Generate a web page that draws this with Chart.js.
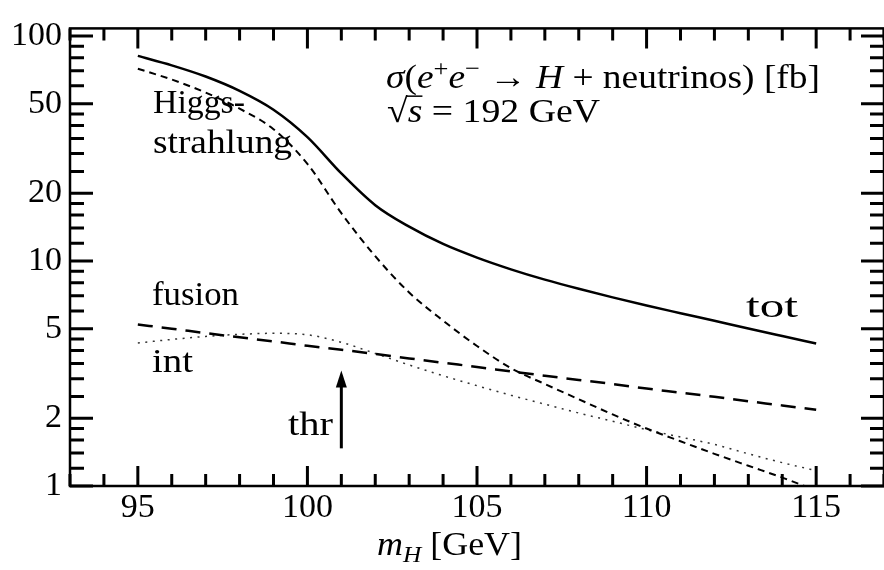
<!DOCTYPE html>
<html>
<head>
<meta charset="utf-8">
<script src="https://cdn.jsdelivr.net/npm/chart.js@4.4.1/dist/chart.umd.min.js"></script>
<style>
  html, body { margin: 0; padding: 0; background: #fff; }
  #wrap { width: 884px; height: 570px; }
</style>
</head>
<body>
<div id="wrap"><canvas id="xsecChart" width="884" height="570"></canvas></div>
<script>
// values (sigma in fb vs m_H in GeV)
const masses = [95, 96, 97, 98, 99, 100, 101, 102, 103, 104, 105, 106, 107, 108, 109, 110, 111, 112, 113, 114, 115];
const totValues = [81.5, 74, 66, 57, 47, 35.5, 24.5, 17.7, 14.2, 11.9, 10.35, 9.18, 8.26, 7.52, 6.89, 6.34, 5.86, 5.42, 5.01, 4.64, 4.3];
const higgsstrahlungValues = [71.5, 64, 56, 47.5, 38.5, 27, 16.3, 10.5, 7.24, 5.43, 4.19, 3.34, 2.84, 2.43, 2.08, 1.8, 1.58, 1.39, 1.23, 1.09, 0.955];
const fusionValues = [5.22, 5.0, 4.78, 4.58, 4.39, 4.2, 4.03, 3.86, 3.69, 3.53, 3.38, 3.23, 3.09, 2.96, 2.84, 2.71, 2.6, 2.49, 2.38, 2.28, 2.18];
const interferenceValues = [4.32, 4.48, 4.62, 4.72, 4.77, 4.7, 4.35, 3.88, 3.45, 3.09, 2.79, 2.53, 2.31, 2.11, 1.94, 1.78, 1.65, 1.53, 1.39, 1.27, 1.17];

const xTickValues = [95, 100, 105, 110, 115];
const yTickValues = [1, 2, 5, 10, 20, 50, 100];
const yMinorTicks = [1.2, 1.4, 1.6, 1.8, 2.5, 3, 3.5, 4, 4.5, 6, 7, 8, 9, 12, 14, 16, 18, 25, 30, 35, 40, 45, 60, 70, 80, 90];

const thresholdMass = 101;
const thresholdArrow = [1.47, 3.26];

const SERIF = '"Liberation Serif", "Times New Roman", serif';

function toPoints(values) {
  return masses.map((m, i) => ({ x: m, y: values[i] }));
}

function segFont(seg, size) {
  const s = (seg.sub || seg.sup) ? Math.round(size * 0.7) : size;
  return (seg.it ? 'italic ' : '') + s + 'px ' + SERIF;
}

// draw a run of text pieces, stretched to a given width
function drawRich(ctx, segs, x, y, width, size) {
  ctx.save();
  let natural = 0;
  const widths = segs.map(seg => {
    ctx.font = segFont(seg, size);
    const w = ctx.measureText(seg.t).width;
    natural += w;
    return w;
  });
  ctx.translate(x, y);
  ctx.scale(width / natural, 1);
  ctx.fillStyle = '#000';
  ctx.strokeStyle = '#000';
  ctx.textBaseline = 'alphabetic';
  ctx.textAlign = 'left';
  let cx = 0;
  segs.forEach((seg, i) => {
    ctx.font = segFont(seg, size);
    const dy = seg.sup ? -size * 0.36 : seg.sub ? size * 0.2 : 0;
    ctx.fillText(seg.t, cx, dy);
    if (seg.over) {
      ctx.beginPath();
      ctx.lineWidth = 1.5;
      ctx.moveTo(cx - 1, -size * 0.76);
      ctx.lineTo(cx + widths[i], -size * 0.76);
      ctx.stroke();
    }
    cx += widths[i];
  });
  ctx.restore();
}

const framePlugin = {
  id: 'frameAndLabels',
  afterDraw(chart) {
    const { ctx, chartArea: a, scales: { x, y } } = chart;
    ctx.save();
    ctx.strokeStyle = '#000';
    ctx.lineWidth = 2.5;
    ctx.strokeRect(a.left, a.top, a.right - a.left, a.bottom - a.top);

    // inward ticks on all four sides
    ctx.beginPath();
    for (let m = Math.ceil(x.min); m <= Math.floor(x.max); m++) {
      const len = m % 5 === 0 ? 20 : 12;
      const px = x.getPixelForValue(m);
      ctx.moveTo(px, a.bottom); ctx.lineTo(px, a.bottom - len);
      ctx.moveTo(px, a.top); ctx.lineTo(px, a.top + len);
    }
    const addY = (v, len) => {
      const py = y.getPixelForValue(v);
      ctx.moveTo(a.left, py); ctx.lineTo(a.left + len, py);
      ctx.moveTo(a.right, py); ctx.lineTo(a.right - len, py);
    };
    yTickValues.forEach(v => addY(v, 23));
    yMinorTicks.forEach(v => addY(v, 14));
    ctx.lineWidth = 3;
    ctx.stroke();

    // threshold arrow
    const ax = x.getPixelForValue(thresholdMass);
    const y0 = y.getPixelForValue(thresholdArrow[0]);
    const y1 = y.getPixelForValue(thresholdArrow[1]);
    ctx.beginPath();
    ctx.lineWidth = 3;
    ctx.moveTo(ax, y0);
    ctx.lineTo(ax, y1 + 10);
    ctx.stroke();
    ctx.beginPath();
    ctx.fillStyle = '#000';
    ctx.moveTo(ax, y1);
    ctx.lineTo(ax - 5.5, y1 + 17);
    ctx.lineTo(ax + 5.5, y1 + 17);
    ctx.closePath();
    ctx.fill();
    ctx.restore();

    // annotations
    drawRich(ctx, [
      { t: 'σ', it: true }, { t: '(' }, { t: 'e', it: true }, { t: '+', sup: true },
      { t: 'e', it: true }, { t: '−', sup: true }, { t: ' → ' }, { t: 'H', it: true },
      { t: ' + neutrinos) [fb]' }
    ], 386, 88, 434, 34);
    drawRich(ctx, [
      { t: '√' }, { t: 's', it: true, over: true }, { t: ' = 192 GeV' }
    ], 387, 122, 213, 34);
    drawRich(ctx, [{ t: 'Higgs-' }], 153, 113, 92, 34);
    drawRich(ctx, [{ t: 'strahlung' }], 153, 153, 139, 34);
    drawRich(ctx, [{ t: 'fusion' }], 152, 305, 87, 34);
    drawRich(ctx, [{ t: 'int' }], 152, 372, 41, 34);
    drawRich(ctx, [{ t: 'thr' }], 288, 435, 45, 34);
    drawRich(ctx, [{ t: 'tot' }], 746, 317, 52, 34);
    drawRich(ctx, [
      { t: 'm', it: true }, { t: 'H', it: true, sub: true }, { t: ' [GeV]' }
    ], 377, 555, 145, 34);
  }
};

const ctx = document.getElementById('xsecChart').getContext('2d');
new Chart(ctx, {
  type: 'line',
  data: {
    datasets: [
      {
        label: 'tot',
        data: toPoints(totValues),
        borderColor: '#000',
        borderWidth: 2.5
      },
      {
        label: 'Higgs-strahlung',
        data: toPoints(higgsstrahlungValues),
        borderColor: '#000',
        borderWidth: 2,
        borderDash: [7, 5]
      },
      {
        label: 'fusion',
        data: toPoints(fusionValues),
        borderColor: '#000',
        borderWidth: 2.5,
        borderDash: [15, 9]
      },
      {
        label: 'int',
        data: toPoints(interferenceValues),
        borderColor: '#333',
        borderWidth: 1.5,
        borderDash: [2, 5.5]
      }
    ]
  },
  options: {
    responsive: false,
    animation: false,
    devicePixelRatio: 1,
    layout: { autoPadding: false, padding: { top: 6, right: 0, left: 0, bottom: 0 } },
    elements: {
      point: { radius: 0 },
      line: { cubicInterpolationMode: 'monotone', fill: false }
    },
    datasets: { line: { clip: 0 } },
    plugins: {
      legend: { display: false },
      tooltip: { enabled: false }
    },
    scales: {
      x: {
        type: 'linear',
        min: 93,
        max: 117,
        grid: { display: false, drawTicks: false },
        border: { display: false },
        ticks: {
          color: '#000',
          padding: 2,
          font: { family: SERIF, size: 34 },
          callback: v => String(v)
        },
        afterBuildTicks: scale => { scale.ticks = xTickValues.map(v => ({ value: v })); },
        afterFit: scale => { scale.height = 84; }
      },
      y: {
        type: 'logarithmic',
        min: 1,
        max: 108,
        grid: { display: false, drawTicks: false },
        border: { display: false },
        ticks: {
          color: '#000',
          padding: 8,
          font: { family: SERIF, size: 34 },
          callback: v => String(v)
        },
        afterBuildTicks: scale => { scale.ticks = yTickValues.map(v => ({ value: v })); },
        afterFit: scale => { scale.width = 70; }
      }
    }
  },
  plugins: [framePlugin]
});
</script>
</body>
</html>
